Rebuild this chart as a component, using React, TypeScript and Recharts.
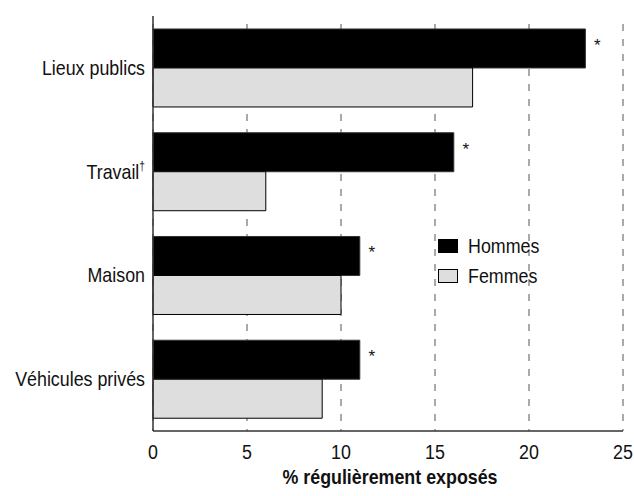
import React from 'react';
import { BarChart, Bar, XAxis, YAxis, CartesianGrid, Legend, LabelList } from 'recharts';

const categories = ['Lieux publics', 'Travail†', 'Maison', 'Véhicules privés'];
const hommes = [23, 16, 11, 11];
const femmes = [17, 6, 10, 9];
const hommesSig = ['*', '*', '*', '*'];
const xTicks = [0, 5, 10, 15, 20, 25];
const seriesOrder = ['Hommes', 'Femmes'];

const FONT = "'Liberation Sans', Arial, sans-serif";
const SQUEEZE = 0.85; // fake Arial Narrow

const data = categories.map((cat, i) => ({
  cat,
  hommes: hommes[i],
  femmes: femmes[i],
  sig: hommesSig[i],
}));

// text squeezed horizontally around its anchor point
const NarrowText = (props: any) => {
  const { x, y, anchor = 'middle', size = 21, weight = 'normal', children } = props;
  return (
    <text
      transform={`translate(${x},${y}) scale(${SQUEEZE},1)`}
      x={0}
      y={0}
      textAnchor={anchor}
      fontFamily={FONT}
      fontSize={size}
      fontWeight={weight}
      fill="#111"
    >
      {children}
    </text>
  );
};

const CatTick = (props: any) => {
  const { x, y, payload } = props;
  const label: string = payload.value;
  const dagger = label.endsWith('†');
  const main = dagger ? label.slice(0, -1) : label;
  return (
    <NarrowText x={x} y={y + 7} anchor="end">
      {main}
      {dagger && (
        <tspan fontSize={12} dy={-9}>†</tspan>
      )}
    </NarrowText>
  );
};

const NumTick = (props: any) => {
  const { x, y, payload } = props;
  return <NarrowText x={x} y={y + 28}>{payload.value}</NarrowText>;
};

const AxisTitle = (props: any) => {
  const { viewBox } = props;
  const { x, y, width } = viewBox;
  return (
    <NarrowText x={x + width / 2 + 2} y={y + 53} size={21} weight="bold">
      % régulièrement exposés
    </NarrowText>
  );
};

const SigLabel = (props: any) => {
  const { x, y, width, value } = props;
  if (!value) return null;
  return (
    <text x={x + width + 12} y={y + 22} textAnchor="middle" fontFamily={FONT} fontSize={17} fill="#111">
      {value}
    </text>
  );
};

const LegendBox = (props: any) => {
  const items = [...(props.payload || [])].sort(
    (a: any, b: any) => seriesOrder.indexOf(a.value) - seriesOrder.indexOf(b.value)
  );
  return (
    <div style={{ fontFamily: FONT, fontSize: 21, color: '#111' }}>
      {items.map((p: any) => (
        <div key={p.value} style={{ display: 'flex', alignItems: 'center', height: 30 }}>
          <span
            style={{
              display: 'inline-block',
              width: 18,
              height: 12,
              background: p.color,
              border: '1px solid #000',
              marginRight: 10,
            }}
          />
          <span style={{ display: 'inline-block', transform: `scaleX(${SQUEEZE})`, transformOrigin: 'left center' }}>
            {p.value}
          </span>
        </div>
      ))}
    </div>
  );
};

export default function App() {
  return (
    <div style={{ position: 'absolute', left: 0, top: 0 }}>
      <BarChart
        width={634}
        height={496}
        data={data}
        layout="vertical"
        margin={{ top: 16, right: 11, left: 0, bottom: 0 }}
        barGap={0}
        barCategoryGap="12.5%"
      >
        <CartesianGrid horizontal={false} stroke="#555" strokeDasharray="7 8" y={24} height={407} />
        <XAxis
          type="number"
          domain={[0, 25]}
          ticks={xTicks}
          interval={0}
          tickLine={false}
          tickSize={0}
          tickMargin={0}
          stroke="#333"
          strokeWidth={1.5}
          height={65}
          tick={<NumTick />}
          label={<AxisTitle />}
        />
        <YAxis
          type="category"
          dataKey="cat"
          width={153}
          tickLine={false}
          tickSize={0}
          tickMargin={8}
          stroke="#333"
          strokeWidth={1.5}
          tick={<CatTick />}
        />
        <Legend
          content={<LegendBox />}
          layout="vertical"
          align="center"
          verticalAlign="middle"
          wrapperStyle={{ position: 'absolute', left: 438, top: 231, width: 120 }}
        />
        <Bar dataKey="hommes" name="Hommes" fill="#000" stroke="#333" strokeWidth={1} isAnimationActive={false}>
          <LabelList dataKey="sig" content={<SigLabel />} />
        </Bar>
        <Bar dataKey="femmes" name="Femmes" fill="#dedede" stroke="#000" strokeWidth={1} isAnimationActive={false} />
      </BarChart>
    </div>
  );
}
